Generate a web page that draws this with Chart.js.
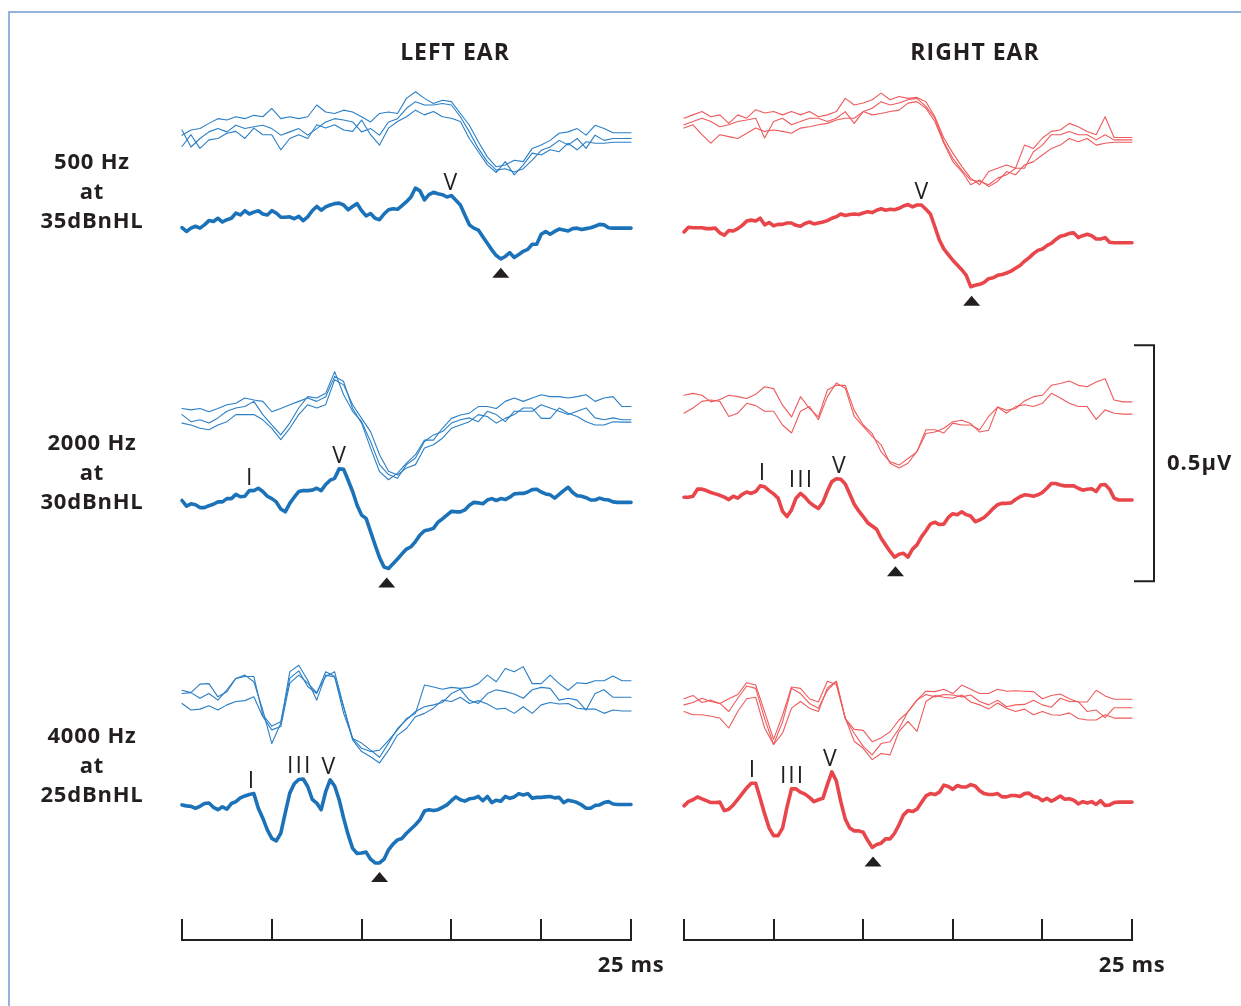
<!DOCTYPE html>
<html>
<head>
<meta charset="utf-8">
<script src="https://cdn.jsdelivr.net/npm/chart.js@4.4.1/dist/chart.umd.min.js"></script>
<style>
  html, body { margin: 0; padding: 0; background: #ffffff; }
  #wrap { position: relative; width: 1241px; height: 1006px; overflow: hidden; background: #fff; }
  #frame { position: absolute; left: 8px; top: 11px; width: 1250px; height: 1010px;
           border-top: 2px solid #93b2de; border-left: 2px solid #93b2de; }
  canvas { position: absolute; left: 0; top: 0; }
  .title { position: absolute; width: 240px; text-align: center; font: 700 23px "Open Sans", sans-serif;
           color: #231f20; line-height: 30px; letter-spacing: 1px; }
  .rowlab { position: absolute; left: 12px; width: 160px; text-align: center;
            font: 700 22px "Open Sans", sans-serif; color: #231f20; line-height: 29.5px; letter-spacing: 0.8px; }
</style>
</head>
<body>
<div id="wrap">
  <div id="frame"></div>
  <canvas id="leftEar" width="1241" height="1006"></canvas>
  <canvas id="rightEar" width="1241" height="1006"></canvas>
  <div class="title" style="left:335px; top:36px;">LEFT EAR</div>
  <div class="title" style="left:855px; top:36px;">RIGHT EAR</div>
  <div class="rowlab" style="top:146px;">500 Hz<br>at<br>35dBnHL</div>
  <div class="rowlab" style="top:427px;">2000 Hz<br>at<br>30dBnHL</div>
  <div class="rowlab" style="top:720px;">4000 Hz<br>at<br>25dBnHL</div>
</div>
<script>
// ---------------- time grids (ms) ----------------
const tAvg = Array.from({length: 101}, (_, i) => i * 0.25);   // averaged waveform samples
const tRep = Array.from({length: 51}, (_, i) => i * 0.5);     // replicate sweeps samples
const timeTicksMs = [0, 5, 10, 15, 20, 25];
const sweepLabel = '25 ms';
const rowNames = ['500 Hz at 35dBnHL', '2000 Hz at 30dBnHL', '4000 Hz at 25dBnHL'];

// ---------------- LEFT EAR (nV, relative to end of sweep) ----------------
const left500Avg = [1,-7,0,4,0,7,16,14,21,13, 18,21,32,28,37,30,34,37,30,28, 37,32,23,23,24,20,25,16,24,37,
  46,38,45,49,52,53,49,39,46,52, 37,26,31,21,18,30,39,41,40,48, 56,66,85,79,60,71,76,73,71,66,
  69,59,49,28,7,0,-4,-18,-32,-46, -58,-65,-60,-52,-62,-56,-49,-45,-34,-34, -13,-7,-13,-7,-2,-4,-6,-1,0,-3,
  -1,1,4,8,7,1,0,0,0,0, 0];
const left500Rep1 = [-5,6,9,20,30,27,34,30,37,34, 52,30,34,30,34,59,44,41,48,44, 34,23,41,44,41,73,87,73,62,69,
  66,41,16,-19,-51,-72,-68,-58,-61,-33, -26,-16,-1,2,9,-5,16,9,0,0, 0];
const left500Rep2 = [18,-18,0,14,21,14,28,21,25,28, 21,7,14,21,7,21,35,42,39,35, 14,21,7,35,42,64,78,71,71,74,
  71,46,14,-21,-49,-67,-64,-71,-64,-46, -25,-18,-4,-14,0,-21,7,-4,0,0, 0];
const left500Rep3 = [-9,16,-13,5,8,19,23,8,30,16, 16,-16,8,16,8,37,30,37,26,23, 47,16,-6,30,44,54,68,58,65,54,
  51,44,8,-20,-48,-64,-41,-69,-48,-23, -27,-16,-20,-2,-16,1,-2,-2,0,0, 0];

const left2000Avg = [4,-8,-3,-5,-11,-11,-7,-4,1,1, 8,8,17,12,13,25,25,30,23,13, 8,1,-14,-20,-2,11,23,25,25,26,
  30,25,38,47,51,71,70,47,23,-6, -27,-34,-62,-90,-117,-137,-140,-130,-120,-109, -99,-94,-83,-69,-60,-58,-55,-42,-35,-27,
  -19,-20,-20,-16,-6,0,-1,-3,5,8, 4,8,6,11,18,19,19,22,27,28, 22,18,16,9,17,25,32,21,14,13,
  10,5,5,9,6,5,1,0,0,0, 0];
const left2000Rep1 = [-4,-7,-4,-11,-4,4,7,18,14,11, -11,-4,4,11,18,11,21,64,53,-4, -35,-88,-138,-155,-141,-120,-102,-71,-71,-46,
  -25,-18,-14,0,0,-4,11,18,11,18, 25,21,21,18,21,25,11,18,21,0, 0];
const left2000Rep2 = [11,-4,0,-7,4,18,25,28,39,11, -11,-32,-7,25,49,46,56,102,53,18, -4,-46,-95,-116,-124,-95,-81,-46,-32,-25,
  -7,0,4,-4,18,11,-4,18,18,18, 32,25,18,11,18,25,4,0,4,0, 0];
const left2000Rep3 = [-2,-6,-13,-16,-6,1,16,16,16,5, -13,-37,-13,16,37,30,37,90,79,37, 8,-20,-69,-104,-112,-97,-90,-55,-48,-34,
  -13,-6,1,16,12,-2,8,16,30,30, 8,8,30,19,12,1,-6,-6,1,0, 0];

const left4000Avg = [-1,-3,-4,-8,-4,2,3,-6,-11,-5, -10,2,6,14,18,21,23,-8,-29,-54, -72,-77,-61,-18,24,44,53,54,38,11,
  3,-11,27,52,39,10,-29,-64,-93,-104, -103,-101,-116,-124,-124,-116,-96,-84,-75,-72, -61,-52,-43,-32,-14,-11,-13,-11,-6,-1,
  8,16,10,7,12,13,17,8,17,4, 9,7,17,13,16,23,20,23,13,15, 15,16,17,14,15,4,9,7,4,-1,
  -8,-8,-2,-1,4,6,1,0,0,0, 0];
const left4000Rep1 = [-20,-25,-7,-6,-34,-23,5,12,-2,-62, -133,-90,19,33,1,-41,12,8,-56,-122, -143,-150,-147,-126,-104,-80,-69,-9,-13,-18,
  -14,-16,-14,-6,12,-2,26,19,30,-6, -6,12,-6,-20,-4,-6,0,0,10,0, 0];
const left4000Rep2 = [8,10,-2,8,-6,16,40,44,44,-37, -61,-52,40,56,23,8,54,44,-34,-87, -97,-112,-127,-97,-66,-48,-30,-20,-16,-11,
  8,17,-6,-13,8,16,12,7,-2,16, 21,19,-6,-2,-6,-27,8,16,0,0, 0];
const left4000Rep3 = [16,2,4,11,2,13,20,22,30,-12, -40,-33,59,76,59,39,73,83,9,-61, -86,-97,-110,-83,-51,-37,-12,-5,6,23,
  20,29,16,22,15,4,6,-5,9,-5, 13,18,15,16,6,4,4,-5,2,0, 0];

// ---------------- RIGHT EAR (nV, relative to end of sweep) ----------------
const right500Avg = [23,33,32,32,32,30,30,31,21,16, 26,25,30,37,46,48,46,52,38,43, 36,39,39,42,42,37,35,41,44,40,
  42,44,47,52,55,61,58,60,61,60, 63,66,64,69,72,69,71,70,73,78, 81,76,80,80,71,61,34,6,-13,-25,
  -37,-47,-57,-69,-93,-90,-88,-84,-76,-74, -69,-67,-64,-60,-54,-48,-39,-32,-23,-16, -13,-6,-1,7,14,16,20,21,11,15,
  18,15,8,8,11,1,0,0,0,0, 0];
const right500Rep1 = [41,48,55,44,48,30,48,41,59,52, 55,48,55,48,55,44,48,55,83,69, 73,80,94,80,87,83,85,76,44,-1,
  -33,-61,-86,-100,-72,-65,-58,-65,-16,-23, -1,13,16,30,23,13,6,44,0,0, 0];
const right500Rep2 = [32,39,46,39,28,32,39,42,46,4, 39,46,32,39,46,46,39,46,60,35, 60,67,81,74,78,85,88,71,46,-4,
  -39,-64,-85,-88,-95,-81,-74,-60,-60,-25, -11,11,11,18,11,11,0,11,0,0, 0];
const right500Rep3 = [30,37,16,-2,16,12,8,19,30,23, 26,23,19,30,33,37,40,47,51,51, 65,58,61,65,68,83,86,72,44,-2,
  -41,-62,-90,-80,-94,-83,-62,-69,-48,-41, -27,-13,-6,8,1,8,-6,-2,0,0, 0];

const right2000Avg = [6,6,8,23,23,20,16,13,10,6, 1,8,4,12,17,14,18,30,28,20, 13,4,-24,-35,-21,4,14,6,-5,-12,
  -18,-5,19,39,45,44,34,13,-9,-23, -35,-48,-55,-62,-81,-95,-109,-121,-115,-113, -121,-104,-95,-78,-65,-51,-47,-52,-51,-37,
  -29,-31,-25,-31,-34,-46,-42,-37,-28,-18, -10,-7,-7,-6,1,7,11,10,8,11, 16,25,35,35,32,30,30,30,25,21,
  23,24,18,32,33,23,4,0,0,0, 0];
const right2000Rep1 = [14,18,14,0,5,14,11,7,16,32, 28,-7,-32,11,-14,-32,25,35,35,-18, -49,-67,-106,-127,-134,-120,-106,-67,-64,-56,
  -42,-39,-46,-64,-60,-11,-18,-14,2,11, 14,35,39,44,35,32,42,49,4,0, 0];
const right2000Rep2 = [2,13,27,30,27,-5,2,23,18,6, 6,-23,-40,6,16,-12,37,66,55,-5, -26,-47,-65,-104,-114,-104,-79,-33,-33,-40,
  -19,-23,-23,-33,-5,15,2,16,20,16, 23,44,34,23,16,16,-11,9,2,0, 0];

const right4000Avg = [-8,1,5,11,7,3,-1,-1,0,-18, -15,-6,6,18,30,40,40,8,-25,-55, -71,-71,-55,-10,28,28,21,17,10,1,
  5,8,37,64,45,1,-36,-55,-61,-61, -64,-81,-96,-90,-87,-78,-78,-66,-48,-27, -18,-20,-15,-1,13,18,16,21,36,33,
  27,35,32,32,37,34,24,18,16,16, 18,11,11,14,14,12,18,19,12,10, 3,8,2,7,13,6,7,4,-4,1,
  -2,1,-5,3,-7,-6,-1,0,0,0, 0];
const right4000Rep1 = [1,8,-7,-2,-9,1,10,35,30,-27, -85,-34,26,23,1,-6,38,31,-41,-64, -66,-90,-82,-69,-44,-27,-2,17,16,21,
  12,30,21,12,12,21,17,18,17,16, 1,8,11,1,-6,-6,19,7,0,0, 0];
const right4000Rep2 = [6,11,20,13,9,-8,20,46,41,-23, -78,-30,41,30,9,-1,37,56,-23,-54, -82,-100,-76,-72,-44,-8,16,28,23,28,
  27,23,27,13,6,16,2,6,7,16, 6,1,20,13,13,-8,-5,-21,0,0, 0];
const right4000Rep3 = [14,7,7,4,0,-21,14,41,44,-21, -56,-32,21,35,21,14,64,78,0,-49, -64,-88,-75,-78,-28,-7,-28,35,48,44,
  42,49,34,28,19,32,21,14,19,7, 14,7,6,11,-1,-4,-4,7,0,0, 0];

// ---------------- wave labels (latency ms, amplitude nV of the averaged trace) ----------------
const leftPeakRow   = [0, 1, 1, 2, 2, 2];
const leftPeakName  = ['V', 'I', 'V', 'I', 'III', 'V'];
const leftPeakMs    = [15.0, 3.8, 8.8, 3.9, 6.5, 8.2];
const leftPeakNv    = [69, 25, 71, 23, 54, 52];
const leftTroughMs  = [17.75, 11.4, 11.0];
const leftTroughNv  = [-65, -140, -124];

const rightPeakRow  = [0, 1, 1, 1, 2, 2, 2];
const rightPeakName = ['V', 'I', 'III', 'V', 'I', 'III', 'V'];
const rightPeakMs   = [13.3, 4.4, 6.5, 8.7, 3.85, 6.0, 8.2];
const rightPeakNv   = [80, 30, 14, 44, 40, 28, 64];
const rightTroughMs = [16.05, 11.8, 10.55];
const rightTroughNv = [-93, -121, -96];

const scaleBarNv = 500;        // 0.5 µV calibration
const scaleBarLabel = '0.5µV';

// ---------------- layout (vertical stacking offsets in nV, styles) ----------------
const Y_MAX = 2131.4;
const leftOffsets = [
  {reps: [1850, 1838, 1830], avg: 1648},
  {reps: [1270, 1242, 1237], avg: 1067},
  {reps: [689, 654, 625],    avg: 427}
];
const rightOffsets = [
  {reps: [1840, 1835, 1830], avg: 1617},
  {reps: [1280, 1254],       avg: 1072},
  {reps: [650, 632, 610],    avg: 432}
];
const SCALE_BAR_BASE = 900;
const INK = '#231f20';
const BLUE = {thick: '#1b72b8', thin: '#2a7fc6'};
const RED  = {thick: '#e8464b', thin: '#ef5a5c'};

function pts(times, vals, off) { return vals.map((v, i) => ({x: times[i], y: v + off})); }

function buildDatasets(rows, offsets, col) {
  const ds = [];
  rows.forEach((r, k) => {
    r.reps.forEach((rep, j) => ds.push({
      data: pts(tRep, rep, offsets[k].reps[j]), borderColor: col.thin, borderWidth: 1.1, tension: 0
    }));
  });
  rows.forEach((r, k) => ds.push({
    data: pts(tAvg, r.avg, offsets[k].avg), borderColor: col.thick, borderWidth: 3.6, tension: 0
  }));
  ds.forEach(d => { d.pointRadius = 0; d.fill = false; d.borderJoinStyle = 'round'; d.borderCapStyle = 'round'; d.clip = 6; });
  return ds;
}

function marksPlugin(cfg) {
  return {
    id: 'abrMarks',
    afterDatasetsDraw(chart) {
      const {ctx} = chart;
      const x = chart.scales.x, y = chart.scales.y;
      ctx.save();
      // wave labels
      ctx.fillStyle = INK;
      ctx.font = '400 23px "Open Sans", sans-serif';
      ctx.textAlign = 'center';
      ctx.textBaseline = 'alphabetic';
      try { ctx.letterSpacing = '2px'; } catch (e) {}
      cfg.peakName.forEach((name, i) => {
        const px = x.getPixelForValue(cfg.peakMs[i]);
        const py = y.getPixelForValue(cfg.peakNv[i] + cfg.offsets[cfg.peakRow[i]].avg);
        ctx.fillText(name, px + (name.length > 1 ? 1 : 0), py - 6);
      });
      try { ctx.letterSpacing = '0px'; } catch (e) {}
      // trough markers
      cfg.troughMs.forEach((t, k) => {
        const px = x.getPixelForValue(t);
        const py = y.getPixelForValue(cfg.troughNv[k] + cfg.offsets[k].avg) + 9;
        ctx.beginPath();
        ctx.moveTo(px, py);
        ctx.lineTo(px + 8.5, py + 10);
        ctx.lineTo(px - 8.5, py + 10);
        ctx.closePath();
        ctx.fill();
      });
      // time axis
      const x0 = x.getPixelForValue(timeTicksMs[0]);
      const x1 = x.getPixelForValue(timeTicksMs[timeTicksMs.length - 1]);
      const base = 940;
      ctx.strokeStyle = INK;
      ctx.lineWidth = 2;
      ctx.lineCap = 'butt';
      ctx.beginPath();
      ctx.moveTo(x0 - 1, base); ctx.lineTo(x1 + 1, base);
      timeTicksMs.forEach(t => {
        const px = Math.round(x.getPixelForValue(t));
        ctx.moveTo(px, base); ctx.lineTo(px, 919);
      });
      ctx.stroke();
      ctx.font = '700 22px "Open Sans", sans-serif';
      ctx.textBaseline = 'middle';
      try { ctx.letterSpacing = '0.6px'; } catch (e) {}
      ctx.fillText(sweepLabel, x1, 966);
      // calibration bar
      if (cfg.scaleBar) {
        const yt = y.getPixelForValue(SCALE_BAR_BASE + scaleBarNv);
        const yb = y.getPixelForValue(SCALE_BAR_BASE);
        const bx = x1 + 22;
        ctx.beginPath();
        ctx.moveTo(x1 + 2, yt); ctx.lineTo(bx, yt); ctx.lineTo(bx, yb); ctx.lineTo(x1 + 2, yb);
        ctx.stroke();
        ctx.textAlign = 'left';
        ctx.font = '700 22px "Open Sans", sans-serif';
        try { ctx.letterSpacing = '1px'; } catch (e) {}
        ctx.fillText(scaleBarLabel, bx + 13, (yt + yb) / 2 + 1);
      }
      ctx.restore();
    }
  };
}

function makeChart(id, rows, offsets, col, padL, padR, cfg) {
  return new Chart(document.getElementById(id), {
    type: 'line',
    data: {datasets: buildDatasets(rows, offsets, col)},
    options: {
      responsive: false, animation: false, devicePixelRatio: 1, events: [],
      layout: {padding: {left: padL, right: padR, top: 0, bottom: 0}},
      scales: {
        x: {type: 'linear', min: 0, max: 25, display: false},
        y: {type: 'linear', min: 0, max: Y_MAX, display: false}
      },
      plugins: {legend: {display: false}, tooltip: {enabled: false}, title: {display: false}}
    },
    plugins: [marksPlugin(cfg)]
  });
}

makeChart('leftEar',
  [{reps: [left500Rep1, left500Rep2, left500Rep3], avg: left500Avg},
   {reps: [left2000Rep1, left2000Rep2, left2000Rep3], avg: left2000Avg},
   {reps: [left4000Rep1, left4000Rep2, left4000Rep3], avg: left4000Avg}],
  leftOffsets, BLUE, 182, 1241 - 631,
  {peakRow: leftPeakRow, peakName: leftPeakName, peakMs: leftPeakMs, peakNv: leftPeakNv,
   troughMs: leftTroughMs, troughNv: leftTroughNv, offsets: leftOffsets, scaleBar: false});

makeChart('rightEar',
  [{reps: [right500Rep1, right500Rep2, right500Rep3], avg: right500Avg},
   {reps: [right2000Rep1, right2000Rep2], avg: right2000Avg},
   {reps: [right4000Rep1, right4000Rep2, right4000Rep3], avg: right4000Avg}],
  rightOffsets, RED, 684, 1241 - 1132,
  {peakRow: rightPeakRow, peakName: rightPeakName, peakMs: rightPeakMs, peakNv: rightPeakNv,
   troughMs: rightTroughMs, troughNv: rightTroughNv, offsets: rightOffsets, scaleBar: true});
</script>
</body>
</html>
